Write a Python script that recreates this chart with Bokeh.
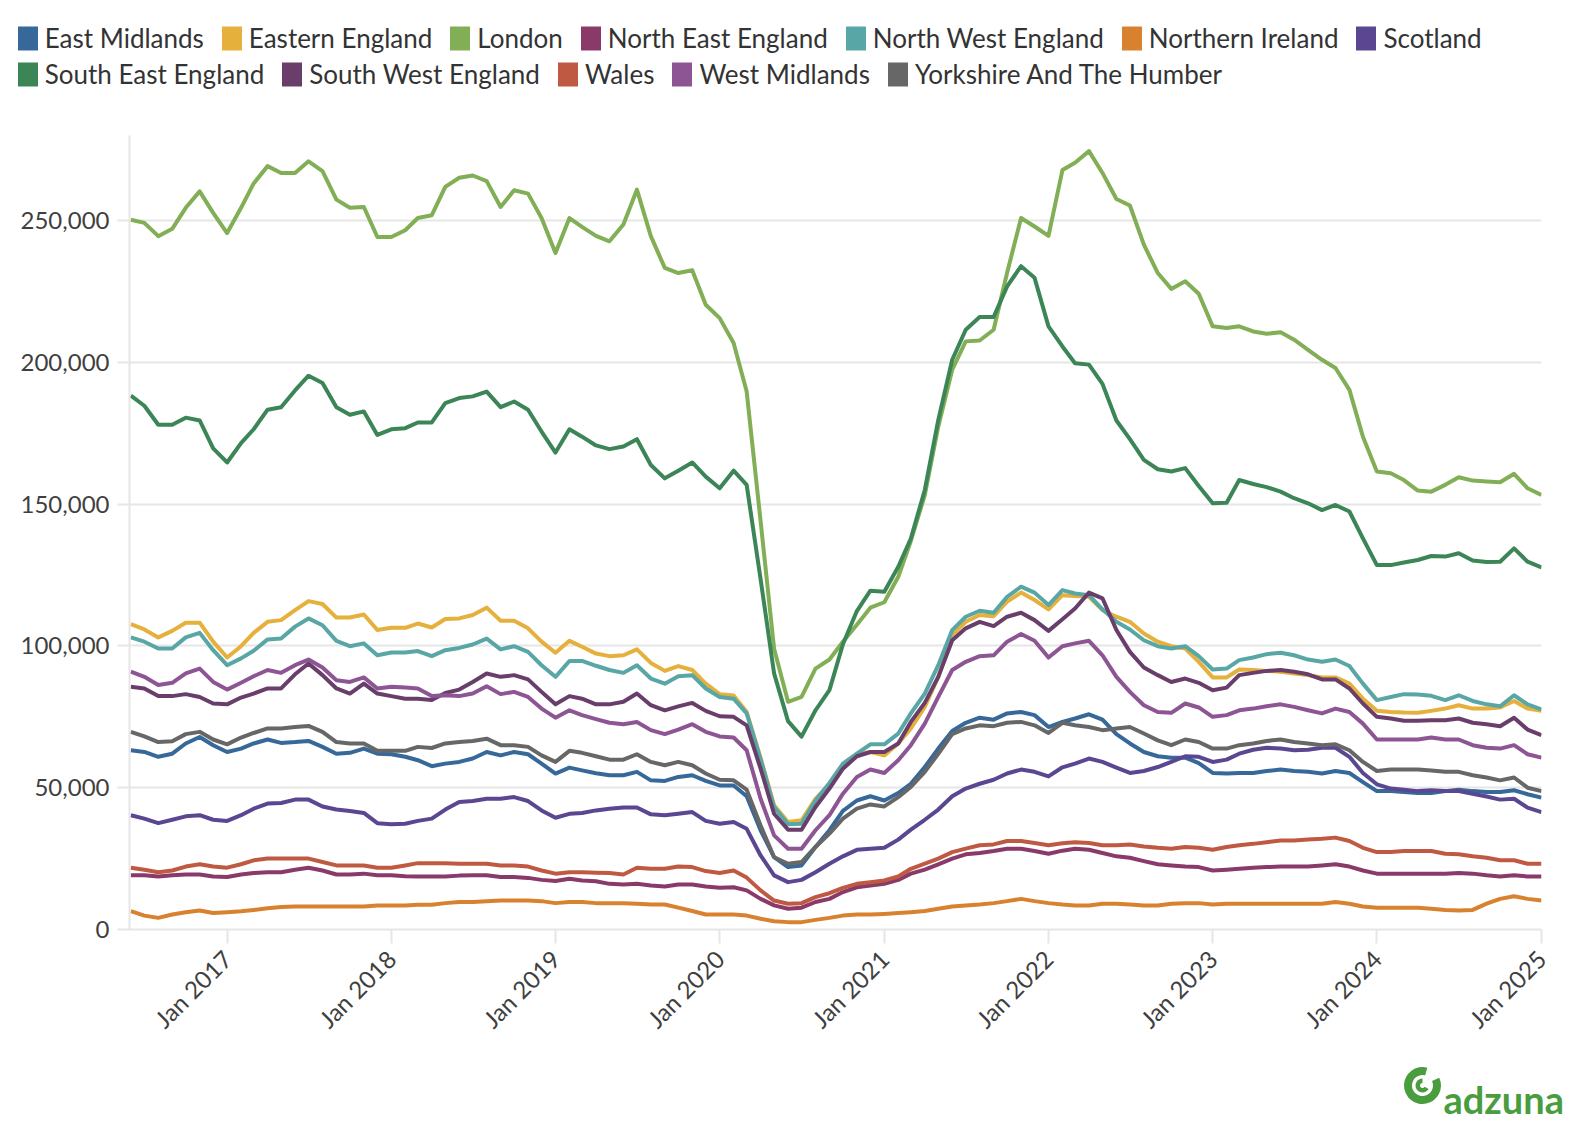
import math
from datetime import datetime
import pandas as pd
from bokeh.plotting import figure
from bokeh.layouts import column
from bokeh.models import (ColumnDataSource, Range1d, Legend, LegendItem, FixedTicker,
                          DatetimeTickFormatter, NumeralTickFormatter)
from bokeh.core.properties import value
from bokeh.embed import file_html
from bokeh.resources import INLINE

# ---------------- data (thousands of job adverts, monthly Jun 2016 - Jan 2025) ----------------
months = pd.date_range("2016-06-01", "2025-01-01", freq="MS")

regions = ["East Midlands", "Eastern England", "London", "North East England",
           "North West England", "Northern Ireland", "Scotland", "South East England",
           "South West England", "Wales", "West Midlands", "Yorkshire And The Humber"]

colors = ["#36689a", "#e5b03b", "#82ae56", "#8a3a69", "#59a6a6", "#d8822f",
          "#5b4691", "#3c8556", "#693e6b", "#c05941", "#8e5594", "#676767"]

east_midlands = [
    63.2, 62.6, 60.9, 62.0, 65.6, 67.9, 65.0,
    62.6, 63.8, 65.6, 67.0, 65.8, 66.1, 66.5, 64.4, 62.0, 62.3, 63.8, 62.0,
    61.8, 60.9, 59.7, 57.6, 58.5, 59.1, 60.3, 62.6, 61.4, 62.6, 61.8, 58.5,
    55.0, 57.1, 56.1, 55.1, 54.4, 54.4, 55.6, 52.6, 52.4, 53.8, 54.4, 52.4,
    50.8, 50.8, 47.0, 35.0, 25.5, 22.0, 22.6, 29.1, 35.0, 41.8, 45.5, 47.0,
    45.5, 48.1, 51.4, 57.3, 63.8, 70.0, 72.9, 74.7, 74.0, 76.2, 76.7, 75.6,
    71.4, 73.2, 74.4, 75.9, 74.0, 68.9, 65.6, 62.6, 61.1, 60.6, 60.6, 58.7,
    55.2, 55.0, 55.2, 55.2, 55.9, 56.4, 55.9, 55.6, 55.0, 55.9, 55.2, 52.0,
    48.8, 48.8, 48.5, 48.1, 48.1, 48.8, 49.3, 48.8, 48.5, 48.5, 49.1, 47.7,
    46.5]

eastern_england = [
    107.7, 105.8, 103.0, 105.3, 108.2, 108.2, 101.5,
    95.9, 99.9, 104.6, 108.5, 109.1, 112.6, 115.8, 114.8, 110.0, 110.0, 111.1, 105.6,
    106.4, 106.4, 107.9, 106.5, 109.5, 109.7, 110.9, 113.5, 108.9, 108.9, 106.2, 101.5,
    97.6, 101.8, 99.7, 97.3, 96.4, 96.7, 98.8, 94.0, 91.2, 92.9, 91.5, 86.7,
    83.0, 82.5, 76.7, 60.5, 43.8, 37.9, 38.5, 46.1, 51.2, 57.9, 61.8, 62.6,
    61.4, 65.6, 70.9, 78.5, 89.1, 103.8, 108.5, 110.9, 110.5, 115.6, 118.8, 116.2,
    112.9, 117.9, 117.6, 117.3, 112.6, 110.3, 108.5, 104.4, 101.5, 99.9, 99.1, 94.4,
    88.9, 88.9, 91.7, 91.5, 91.2, 90.9, 90.3, 89.7, 88.9, 88.9, 86.7, 81.4,
    77.1, 76.7, 76.5, 76.4, 77.1, 77.9, 79.1, 77.9, 77.9, 78.3, 80.6, 77.9,
    77.1]

london = [
    250.3, 249.2, 244.5, 247.1, 254.5, 260.3, 252.7,
    245.6, 254.5, 263.1, 269.2, 266.8, 266.8, 270.9, 267.4, 257.4, 254.5, 254.8, 244.2,
    244.2, 246.6, 250.9, 251.9, 261.9, 265.1, 265.9, 263.9, 254.8, 260.7, 259.5, 250.9,
    238.6, 250.9, 247.8, 244.6, 242.7, 248.6, 260.9, 244.5, 233.3, 231.5, 232.5, 220.3,
    215.6, 206.8, 189.7, 144.0, 99.0, 80.3, 82.0, 92.0, 95.2, 101.5, 107.5, 113.5,
    115.4, 124.4, 137.0, 153.2, 177.4, 197.4, 207.4, 207.7, 211.5, 231.6, 250.9, 247.9,
    244.6, 267.8, 270.4, 274.5, 266.8, 257.6, 255.3, 241.5, 231.5, 225.9, 228.6, 224.2,
    212.7, 212.1, 212.7, 210.9, 210.1, 210.6, 208.0, 204.4, 200.9, 198.0, 190.3, 173.8,
    161.5, 160.9, 158.5, 154.8, 154.4, 156.8, 159.5, 158.3, 158.0, 157.7, 160.7, 155.6,
    153.2]

north_east_england = [
    19.1, 19.1, 18.7, 19.1, 19.4, 19.4, 18.7,
    18.5, 19.4, 19.9, 20.2, 20.2, 21.1, 21.8, 20.8, 19.4, 19.4, 19.7, 19.1,
    19.1, 18.8, 18.7, 18.7, 18.7, 19.0, 19.1, 19.1, 18.5, 18.5, 18.2, 17.5,
    17.1, 17.9, 17.3, 17.0, 16.1, 15.9, 16.1, 15.5, 15.2, 15.9, 15.9, 15.2,
    14.7, 14.9, 13.8, 10.8, 8.5, 7.3, 7.7, 9.7, 10.8, 13.2, 14.9, 15.5,
    16.1, 17.5, 19.7, 21.1, 23.0, 25.0, 26.5, 27.0, 27.7, 28.5, 28.5, 27.7,
    26.7, 27.8, 28.5, 28.1, 27.0, 25.8, 25.3, 24.1, 23.0, 22.6, 22.2, 22.0,
    20.8, 21.1, 21.4, 21.8, 22.0, 22.2, 22.2, 22.2, 22.6, 23.0, 22.2, 20.8,
    19.7, 19.7, 19.7, 19.7, 19.7, 19.7, 19.9, 19.7, 19.1, 18.7, 19.1, 18.7,
    18.7]

north_west_england = [
    103.0, 101.5, 99.1, 99.1, 103.0, 104.6, 98.5,
    93.2, 95.6, 98.3, 102.3, 102.6, 106.8, 109.7, 107.3, 101.8, 99.9, 100.9, 96.7,
    97.7, 97.7, 98.2, 96.4, 98.5, 99.3, 100.5, 102.6, 98.8, 99.9, 97.9, 93.2,
    89.1, 94.7, 94.7, 93.0, 91.5, 90.5, 93.2, 88.5, 86.7, 89.3, 89.7, 85.0,
    82.0, 81.4, 76.2, 60.0, 43.2, 37.1, 37.3, 45.5, 51.7, 58.5, 62.0, 65.3,
    65.3, 69.1, 76.2, 83.2, 93.2, 105.6, 110.3, 112.4, 111.7, 117.3, 120.9, 118.8,
    114.4, 119.7, 118.5, 117.9, 112.9, 108.5, 105.8, 102.0, 99.9, 99.1, 99.9, 96.4,
    91.7, 92.0, 95.0, 95.9, 97.1, 97.6, 96.7, 95.2, 94.4, 95.2, 92.9, 86.7,
    80.9, 82.0, 83.0, 82.9, 82.4, 80.9, 82.6, 80.6, 79.4, 78.7, 82.6, 79.4,
    77.6]

northern_ireland = [
    6.5, 4.9, 4.1, 5.3, 6.1, 6.7, 5.8,
    6.1, 6.4, 6.9, 7.5, 7.9, 8.1, 8.1, 8.1, 8.1, 8.1, 8.1, 8.5,
    8.5, 8.5, 8.7, 8.7, 9.3, 9.7, 9.7, 10.0, 10.2, 10.2, 10.2, 10.0,
    9.3, 9.7, 9.7, 9.3, 9.3, 9.3, 9.1, 8.8, 8.8, 7.7, 6.5, 5.3,
    5.3, 5.3, 4.9, 3.8, 2.9, 2.6, 2.6, 3.4, 4.1, 4.9, 5.3, 5.3,
    5.5, 5.8, 6.1, 6.5, 7.3, 8.1, 8.5, 8.8, 9.3, 10.0, 10.8, 10.0,
    9.3, 8.8, 8.5, 8.5, 9.1, 9.1, 8.8, 8.5, 8.5, 9.1, 9.3, 9.3,
    8.8, 9.1, 9.1, 9.1, 9.1, 9.1, 9.1, 9.1, 9.1, 9.7, 9.1, 8.1,
    7.7, 7.7, 7.7, 7.7, 7.3, 6.9, 6.7, 6.9, 9.1, 10.8, 11.7, 10.8,
    10.2]

scotland = [
    40.3, 39.1, 37.5, 38.7, 39.9, 40.3, 38.7,
    38.3, 40.3, 42.6, 44.4, 44.6, 45.8, 45.8, 43.4, 42.3, 41.8, 41.1, 37.5,
    37.1, 37.3, 38.3, 39.1, 42.3, 45.0, 45.3, 46.1, 46.1, 46.7, 45.3, 42.0,
    39.4, 40.8, 41.1, 42.0, 42.6, 43.0, 43.0, 40.6, 40.3, 40.8, 41.4, 38.3,
    37.3, 37.9, 35.5, 26.1, 19.1, 16.7, 17.5, 20.2, 23.2, 25.8, 28.1, 28.5,
    28.8, 31.7, 35.2, 38.7, 42.3, 47.0, 49.7, 51.4, 52.8, 55.0, 56.4, 55.6,
    54.0, 57.2, 58.5, 60.3, 59.1, 57.1, 55.2, 55.9, 57.3, 59.1, 61.1, 60.9,
    59.1, 59.9, 62.0, 63.4, 64.1, 63.8, 63.2, 63.4, 64.1, 64.1, 60.9, 55.2,
    51.2, 49.7, 49.3, 48.8, 49.1, 48.8, 48.8, 47.9, 46.9, 45.8, 46.1, 43.0,
    41.4]

south_east_england = [
    188.3, 184.7, 178.0, 178.0, 180.5, 179.5, 169.7,
    164.7, 171.5, 176.4, 183.3, 184.2, 190.1, 195.3, 192.7, 184.2, 181.5, 182.7, 174.4,
    176.4, 176.8, 178.8, 178.8, 185.6, 187.4, 188.0, 189.7, 184.2, 186.2, 183.3, 175.6,
    168.2, 176.4, 173.8, 170.7, 169.4, 170.3, 172.9, 163.8, 159.1, 161.8, 164.7, 159.7,
    155.6, 161.8, 156.8, 123.5, 90.3, 73.5, 68.0, 77.3, 84.4, 100.6, 112.3, 119.5,
    119.1, 127.9, 137.9, 155.0, 179.7, 200.9, 211.5, 216.0, 216.0, 226.8, 233.9, 229.8,
    212.7, 205.6, 199.7, 199.2, 192.4, 179.5, 172.9, 165.6, 162.3, 161.5, 162.7, 156.4,
    150.3, 150.5, 158.5, 157.1, 156.0, 154.4, 152.1, 150.3, 147.9, 149.7, 147.4, 137.9,
    128.5, 128.5, 129.4, 130.3, 131.7, 131.5, 132.7, 130.1, 129.6, 129.7, 134.4, 129.7,
    127.7]

south_west_england = [
    85.6, 85.0, 82.3, 82.3, 83.0, 82.0, 79.7,
    79.4, 81.8, 83.2, 85.0, 85.0, 90.0, 93.8, 89.7, 85.0, 83.2, 86.7, 83.2,
    82.3, 81.4, 81.4, 80.9, 83.4, 84.6, 87.3, 90.3, 89.1, 89.7, 88.2, 83.8,
    79.4, 82.3, 81.4, 79.4, 79.4, 80.3, 83.2, 79.1, 77.3, 78.7, 79.9, 77.1,
    75.2, 75.0, 72.0, 56.7, 40.8, 35.2, 35.2, 43.2, 49.7, 56.7, 61.1, 62.6,
    62.6, 65.6, 73.2, 79.9, 89.1, 102.0, 106.2, 108.5, 107.0, 110.3, 111.7, 109.1,
    105.3, 109.4, 113.2, 118.8, 116.8, 105.6, 97.9, 92.4, 89.7, 87.3, 88.5, 87.0,
    84.4, 85.3, 89.7, 90.5, 91.2, 91.5, 90.9, 90.0, 88.2, 88.2, 85.0, 79.7,
    75.0, 74.4, 73.6, 73.6, 73.8, 73.8, 74.4, 72.9, 72.4, 71.7, 74.7, 70.5,
    68.5]

wales = [
    21.8, 21.1, 20.2, 20.8, 22.2, 23.0, 22.2,
    21.8, 23.0, 24.4, 25.0, 25.0, 25.0, 25.0, 23.8, 22.6, 22.6, 22.6, 21.8,
    21.8, 22.6, 23.4, 23.4, 23.4, 23.2, 23.2, 23.2, 22.6, 22.6, 22.2, 20.8,
    19.7, 20.2, 20.2, 20.0, 19.9, 19.4, 21.8, 21.4, 21.4, 22.2, 22.0, 20.6,
    19.9, 20.8, 18.3, 13.8, 10.2, 9.1, 9.3, 11.4, 12.8, 14.7, 16.1, 16.7,
    17.3, 18.7, 21.4, 23.2, 25.0, 27.3, 28.5, 29.7, 30.0, 31.2, 31.2, 30.5,
    29.7, 30.4, 30.8, 30.5, 29.7, 29.7, 30.0, 29.3, 28.8, 28.5, 29.1, 28.8,
    28.1, 29.1, 29.7, 30.2, 30.8, 31.4, 31.4, 31.7, 32.0, 32.4, 31.2, 28.8,
    27.3, 27.3, 27.7, 27.7, 27.7, 26.7, 26.5, 25.8, 25.3, 24.4, 24.4, 23.2,
    23.2]

west_midlands = [
    90.9, 89.1, 86.2, 87.0, 90.3, 92.0, 87.3,
    84.6, 87.0, 89.3, 91.5, 90.5, 93.2, 95.2, 92.4, 87.9, 87.3, 88.9, 85.0,
    85.6, 85.3, 85.0, 82.3, 82.6, 82.3, 83.2, 85.8, 83.0, 83.8, 82.0, 77.9,
    74.7, 77.3, 75.6, 74.2, 72.9, 72.4, 73.2, 70.3, 68.9, 70.5, 72.4, 69.7,
    68.1, 67.7, 63.2, 46.1, 33.2, 28.5, 28.5, 35.0, 40.3, 47.9, 53.8, 56.4,
    55.2, 59.7, 65.0, 72.6, 82.0, 91.5, 94.4, 96.4, 96.7, 101.5, 104.2, 101.8,
    95.9, 99.9, 100.9, 101.8, 96.7, 89.1, 83.8, 79.1, 76.7, 76.4, 79.7, 78.3,
    75.0, 75.6, 77.3, 77.9, 78.7, 79.4, 78.5, 77.3, 76.2, 77.9, 76.7, 72.6,
    67.0, 67.0, 67.0, 67.0, 67.7, 67.0, 67.0, 65.0, 64.1, 63.8, 65.0, 61.8,
    60.6]

yorkshire = [
    69.7, 68.1, 66.1, 66.4, 68.9, 69.7, 67.0,
    65.3, 67.7, 69.3, 70.9, 70.9, 71.4, 71.8, 69.7, 66.1, 65.6, 65.6, 63.0,
    63.0, 63.0, 64.4, 64.0, 65.6, 66.1, 66.5, 67.3, 65.0, 65.0, 64.4, 61.4,
    59.1, 63.0, 62.3, 61.1, 59.9, 59.9, 61.8, 59.1, 57.9, 59.1, 57.9, 55.0,
    52.8, 52.6, 49.3, 36.7, 25.5, 23.2, 23.8, 29.1, 33.8, 39.1, 42.6, 44.1,
    43.4, 46.7, 50.3, 55.6, 62.0, 68.9, 70.9, 72.0, 71.7, 72.9, 73.2, 72.0,
    69.3, 72.9, 72.0, 71.4, 70.3, 70.9, 71.4, 69.1, 66.7, 65.0, 67.0, 66.1,
    63.8, 63.8, 65.0, 65.6, 66.5, 67.0, 66.1, 65.6, 65.0, 65.3, 63.2, 59.1,
    55.9, 56.4, 56.4, 56.4, 56.1, 55.6, 55.6, 54.4, 53.6, 52.6, 53.6, 50.0,
    48.8]

y_ticks = [0, 50000, 100000, 150000, 200000, 250000]
x_tick_years = [2017, 2018, 2019, 2020, 2021, 2022, 2023, 2024, 2025]

all_series = [east_midlands, eastern_england, london, north_east_england,
              north_west_england, northern_ireland, scotland, south_east_england,
              south_west_england, wales, west_midlands, yorkshire]

# ---------------- source ----------------
data = {"x": months}
for i, vals in enumerate(all_series):
    data[f"s{i}"] = [v * 1000 for v in vals]
src = ColumnDataSource(data)

FONT = "Lato"
TEXT = "#3f3f3f"
GRID = "#e6e6e6"
W = 1568

# ---------------- legend strip (own canvas, frame not aligned with the chart) ----------------
LH = 117
leg = figure(width=W, height=LH, x_range=Range1d(0, W), y_range=Range1d(0, LH),
             toolbar_location=None, output_backend="svg", min_border=0,
             x_axis_location=None, y_axis_location=None, outline_line_color=None)
leg.grid.visible = False
leg.frame_align = False

items = []
for name, c in zip(regions, colors):
    # key swatch only: a single rect placed outside the visible range
    r = leg.rect(x=[-1000], y=[-1000], width=[1], height=[1], fill_color=c, line_color=None)
    items.append(LegendItem(label=name, renderers=[r]))

def make_legend(its, loc):
    return Legend(items=its, orientation="horizontal", location=loc,
                  glyph_width=25, glyph_height=30, label_height=30, label_standoff=5,
                  spacing=15, padding=3, margin=0, label_text_font=FONT,
                  label_text_font_size="26px", label_text_color="#333333",
                  border_line_color=None, background_fill_alpha=0)

leg.add_layout(make_legend(items[:7], (6.7, 70.8)), "center")
leg.add_layout(make_legend(items[7:], (6.7, 35.3)), "center")

# ---------------- main chart ----------------
BL, BR, BT, BB = 121, 35, 10, 126
MH = BT + 794 + BB
x_start = datetime(2016, 5, 29)
x_end = datetime(2025, 1, 1)
p = figure(width=W, height=MH, x_axis_type="datetime",
           x_range=Range1d(x_start, x_end), y_range=Range1d(0, 280000),
           toolbar_location=None, output_backend="svg",
           min_border_left=BL, min_border_right=BR, min_border_top=BT, min_border_bottom=BB)
p.outline_line_color = None
p.xgrid.visible = False
p.ygrid.grid_line_color = GRID
p.ygrid.grid_line_width = 2

p.yaxis.ticker = FixedTicker(ticks=y_ticks)
p.yaxis.formatter = NumeralTickFormatter(format="0,0")
p.xaxis.ticker = FixedTicker(ticks=[pd.Timestamp(f"{y}-01-01").value // 10**6 for y in x_tick_years])
fmt = "%b %Y"
p.xaxis.formatter = DatetimeTickFormatter(years=fmt, months=fmt, days=fmt, hours=fmt,
                                          hourmin=fmt, minutes=fmt, minsec=fmt,
                                          seconds=fmt, milliseconds=fmt, microseconds=fmt)

for ax in (p.xaxis[0], p.yaxis[0]):
    ax.axis_line_color = GRID
    ax.axis_line_width = 2
    ax.major_tick_line_color = GRID
    ax.major_tick_line_width = 2
    ax.major_tick_in = 0
    ax.minor_tick_line_color = None
    ax.major_label_text_font = FONT
    ax.major_label_text_font_size = "24px"
    ax.major_label_text_color = TEXT
p.xaxis.major_tick_out = 14
p.yaxis.major_tick_out = 12
p.yaxis.major_label_standoff = 8
p.xaxis.major_label_standoff = 11
p.xaxis.major_label_orientation = math.pi / 4

for i, c in enumerate(colors):
    p.line(x="x", y=f"s{i}", source=src, line_color=c, line_width=4, line_join="round")

# ---------------- adzuna logo strip ----------------
GH = 85
logo = figure(width=W, height=GH, x_range=Range1d(0, W), y_range=Range1d(0, GH),
              toolbar_location=None, output_backend="svg", min_border=0,
              x_axis_location=None, y_axis_location=None, outline_line_color=None)
logo.grid.visible = False
logo.frame_align = False
GREEN = "#4a9d3f"
logo.annular_wedge(x=[1414], y=[55], inner_radius=10.5, outer_radius=18.5,
                   start_angle=math.radians(75), end_angle=math.radians(25),
                   direction="anticlock", fill_color=GREEN, line_color=None)
logo.annular_wedge(x=[1414], y=[55], inner_radius=2.5, outer_radius=7,
                   start_angle=math.radians(90), end_angle=math.radians(330),
                   direction="anticlock", fill_color=GREEN, line_color=None)
logo.text(x=[1435], y=[42], text=["adzuna"], text_font=value(FONT), text_font_size="38px",
          text_font_style="bold", text_color=GREEN, text_baseline="alphabetic", text_align="left")

layout = column(leg, p, logo, spacing=0, margin=(8, 0, 0, 8))
open("out.html", "w").write(file_html(layout, INLINE))
